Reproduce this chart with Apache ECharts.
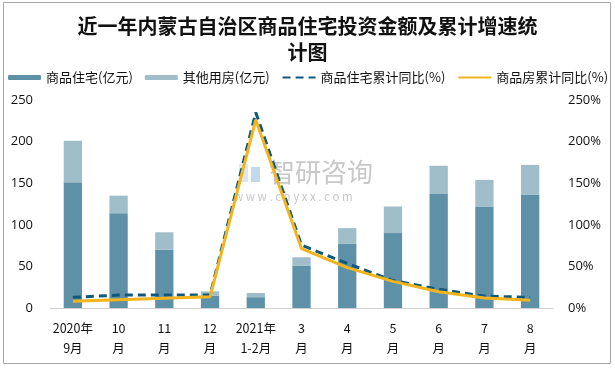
<!DOCTYPE html>
<html><head><meta charset="utf-8">
<script src="https://cdn.jsdelivr.net/npm/echarts@6/dist/echarts.min.js"></script>
<style>html,body{margin:0;padding:0;background:#fff}#c{width:615px;height:369px}</style>
</head><body><div id="c"></div>
<script>
const categories = ['2020年\n9月','10\n月','11\n月','12\n月','2021年\n1-2月','3\n月','4\n月','5\n月','6\n月','7\n月','8\n月'];
const residential = [151, 114, 70, 15, 13, 51, 77, 90, 137, 122, 136];
const otherUse = [50, 21, 21, 5, 5, 10, 19, 32, 34, 32, 36];
const residentialYoY = [12.8, 15.5, 15.5, 15.5, 235, 75.5, 53.5, 33, 22.5, 14.3, 12.8];
const commercialYoY = [8, 9.8, 11.6, 13.5, 226, 71.5, 48.5, 32, 19.5, 12, 9.2];

const chart = echarts.init(document.getElementById('c'));
const font = 'Noto Sans CJK SC';
chart.setOption({
  animation: false,
  textStyle: {fontFamily: font},
  title: {
    text: '近一年内蒙古自治区商品住宅投资金额及累计增速统\n计图',
    left: 'center', top: 8,
    textStyle: {fontSize: 20, fontWeight: 'bold', color: '#111', lineHeight: 26, fontFamily: font}
  },
  graphic: [
    {type: 'rect', shape: {x: 3.5, y: 2.5, width: 607, height: 361}, style: {fill: 'none', stroke: '#a6a6a6', lineWidth: 1}, silent: true},
    {type: 'rect', z: -1, shape: {x: 239, y: 164, width: 9, height: 18}, style: {fill: '#dbe7f1'}, silent: true},
    {type: 'rect', z: -1, shape: {x: 251, y: 167, width: 9, height: 15}, style: {fill: '#c2d9ec'}, silent: true},
    {type: 'text', z: -1, left: 269, top: 159, style: {text: '智研咨询', fontSize: 26, fill: '#c8c8c8', fontFamily: font}},
    {type: 'text', z: -1, left: 234, top: 191, style: {text: 'w w w . c h y x x . c o m', fontSize: 11.5, fill: '#c8c8c8', fontFamily: font}}
  ],
  legend: {
    top: 66, left: 8, width: 607, padding: [5, 0], itemGap: 12, itemWidth: 33, itemHeight: 5,
    textStyle: {fontSize: 13, color: '#111', fontFamily: font},
    data: [
      {name: '商品住宅(亿元)'},
      {name: '其他用房(亿元)'},
      {name: '商品住宅累计同比(%)', itemStyle: {opacity: 0}},
      {name: '商品房累计同比(%)', itemStyle: {opacity: 0}}
    ]
  },
  grid: {left: 50, right: 62, top: 100, bottom: 61, containLabel: false},
  xAxis: {
    type: 'category', data: categories,
    axisLine: {lineStyle: {color: '#d0d0d0'}},
    axisTick: {show: false},
    axisLabel: {color: '#111', fontSize: 12.5, lineHeight: 20, margin: 10, interval: 0, fontFamily: font}
  },
  yAxis: [
    {type: 'value', min: 0, max: 250, interval: 50, splitLine: {show: false},
     axisLine: {show: false}, axisTick: {show: false},
     axisLabel: {color: '#111', fontSize: 13, margin: 17, fontFamily: 'Open Sans'}},
    {type: 'value', min: 0, max: 250, interval: 50, splitLine: {show: false},
     axisLine: {show: false}, axisTick: {show: false},
     axisLabel: {color: '#111', fontSize: 13, margin: 15, formatter: '{value}%', fontFamily: 'Open Sans'}}
  ],
  series: [
    {name: '商品住宅(亿元)', type: 'bar', stack: 'a', data: residential, barWidth: '40%', itemStyle: {color: '#5e91a7'}},
    {name: '其他用房(亿元)', type: 'bar', stack: 'a', data: otherUse, barWidth: '40%', itemStyle: {color: '#a0bdca'}},
    {name: '商品住宅累计同比(%)', type: 'line', yAxisIndex: 1, data: residentialYoY, symbol: 'none',
     lineStyle: {color: '#0f5a7c', width: 3, type: [8, 5]}, itemStyle: {color: '#0f5a7c'}},
    {name: '商品房累计同比(%)', type: 'line', yAxisIndex: 1, data: commercialYoY, symbol: 'none',
     lineStyle: {color: '#f4b41d', width: 3}, itemStyle: {color: '#f4b41d'}}
  ]
});
</script></body></html>
